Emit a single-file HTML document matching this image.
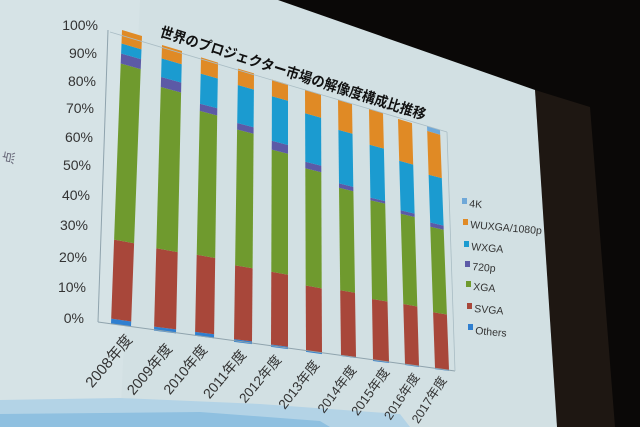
<!DOCTYPE html>
<html><head><meta charset="utf-8">
<style>
html,body{margin:0;padding:0;width:640px;height:427px;overflow:hidden;background:#080706;}
svg{display:block}
text{font-family:"Liberation Sans","Noto Sans CJK JP",sans-serif;}
</style></head>
<body>
<svg id="s" width="640" height="427" viewBox="0 0 640 427" xmlns="http://www.w3.org/2000/svg">
<rect width="640" height="427" fill="#0a0807"/>
<polygon points="535,90 590,107 615,427 557,427" fill="#1e1712"/>
<polygon points="0,0 278,0 535,90 557,427 0,427" fill="#d2e0e3"/>
<polygon points="0,0 140,0 120,427 0,427" fill="#d8e5e8" opacity="0.6"/>
<polygon points="0,400 120,398 260,404 400,414 410,427 0,427" fill="#b3d3e6"/>
<polygon points="0,414 200,412 320,421 330,427 0,427" fill="#8fc0e0"/>
<g id="bars"></g>
<line x1="108" y1="30" x2="98" y2="322" stroke="#8fa3ad" stroke-width="1"/>
<line x1="98" y1="322" x2="455" y2="371" stroke="#8fa3ad" stroke-width="1"/>
<line x1="110" y1="32" x2="447" y2="132" stroke="#a9bcc4" stroke-width="0.8"/>
<line x1="447" y1="132" x2="455" y2="371" stroke="#a9bcc4" stroke-width="0.8"/>
<g fill="#333" font-size="14" text-anchor="end">
<text x="98" y="30">100%</text>
<text x="97" y="58">90%</text>
<text x="96" y="86">80%</text>
<text x="94" y="113">70%</text>
<text x="93" y="142">60%</text>
<text x="91" y="170">50%</text>
<text x="90" y="200">40%</text>
<text x="88" y="230">30%</text>
<text x="87" y="262">20%</text>
<text x="86" y="292">10%</text>
<text x="84" y="323">0%</text>
</g>
<text x="159" y="36" font-size="14.5" font-weight="bold" fill="#111" transform="rotate(17.6 159 36)" textLength="278" lengthAdjust="spacingAndGlyphs">世界のプロジェクター市場の解像度構成比推移</text>
<g fill="#333" text-anchor="end">
<text font-size="15" transform="translate(133,340) rotate(-50)">2008年度</text>
<text font-size="14.5" transform="translate(173,349) rotate(-50)">2009年度</text>
<text font-size="14" transform="translate(208,350) rotate(-50)">2010年度</text>
<text font-size="14" transform="translate(247,355) rotate(-50)">2011年度</text>
<text font-size="13.5" transform="translate(282,360) rotate(-50)">2012年度</text>
<text font-size="13.5" transform="translate(320,365) rotate(-52)">2013年度</text>
<text font-size="13" transform="translate(357,370) rotate(-53)">2014年度</text>
<text font-size="13" transform="translate(390,372) rotate(-54)">2015年度</text>
<text font-size="12.5" transform="translate(420,377) rotate(-56)">2016年度</text>
<text font-size="12.5" transform="translate(447,380) rotate(-57)">2017年度</text>
</g>
<g font-size="10.5" fill="#333">
<rect x="462" y="198" width="5" height="6" fill="#6fa8d8"/><text transform="translate(469,207) rotate(5)">4K</text>
<rect x="463" y="219" width="5" height="6" fill="#e08a25"/><text transform="translate(470,228) rotate(5)">WUXGA/1080p</text>
<rect x="464" y="241" width="5" height="6" fill="#1b9bd0"/><text transform="translate(471,250) rotate(5)">WXGA</text>
<rect x="465" y="261" width="5" height="6" fill="#5c5aa6"/><text transform="translate(472,270) rotate(5)">720p</text>
<rect x="466" y="281" width="5" height="6" fill="#6f9a2e"/><text transform="translate(473,290) rotate(5)">XGA</text>
<rect x="467" y="303" width="5" height="6" fill="#a8473a"/><text transform="translate(474,312) rotate(5)">SVGA</text>
<rect x="468" y="324" width="5" height="6" fill="#2f7fd0"/><text transform="translate(475,334) rotate(5)">Others</text>
</g>
<text x="4" y="165" font-size="13" fill="#667" transform="rotate(-80 8 160)">点</text>
</svg>
<script>
var cols=["#2f7fd0","#a8473a","#6f9a2e","#5c5aa6","#1b9bd0","#e08a25","#6fa8d8"];
var data=[
[1.7,28.6,88.6,92,95.4,100,100],
[1.4,28.8,85.3,88.8,95.3,100,100],
[1.4,29.1,80.8,83.4,94.2,100,100],
[1,28,77.7,80.1,94,100,100],
[0.9,28.1,73.8,77.1,93.8,100,100],
[0.6,25.3,70,72.5,91,100,100],
[0.4,25.7,65.7,67.4,88.3,100,100],
[0.4,24.6,63.8,64.8,85.8,100,100],
[0.4,24.8,61.5,62.9,83,100,100],
[0.4,23.4,58.6,60.3,80,98,100]];
var tx=[[122,142],[162,182],[201,218],[238,254],[272,288],[305,321],[338,352],[369,383],[398,412],[427,440]];
var bx=[[111,131],[154,176],[195,214],[234,252],[271,288],[306,322],[341,356],[373,389],[405,419],[435,449]];
var ty=[33,48,60,71,82,92,102,111,121,128];
var by=[325,332,337,343,348,353,357,362,366,370];
var g=document.getElementById("bars"),h="";
function pt(i,side,f){
  var w=(tx[i][1]-tx[i][0]);
  var xt=tx[i][side], xb=bx[i][side];
  var yt=ty[i]+(side?0.15:-0.15)*w, yb=by[i]+(side?0.07:-0.07)*w;
  return [xb+(xt-xb)*f, yb+(yt-yb)*f];
}
for(var i=0;i<10;i++){
  var prev=0;
  for(var k=0;k<7;k++){
    var c=data[i][k]/100; if(c<=prev){continue;}
    var a=pt(i,0,prev),b=pt(i,1,prev),d=pt(i,1,c),e=pt(i,0,c);
    h+='<polygon fill="'+cols[k]+'" points="'+[a,b,d,e].map(function(p){return p[0].toFixed(1)+","+p[1].toFixed(1)}).join(" ")+'"/>';
    prev=c;
  }
}
g.innerHTML=h;
</script>
</body></html>
